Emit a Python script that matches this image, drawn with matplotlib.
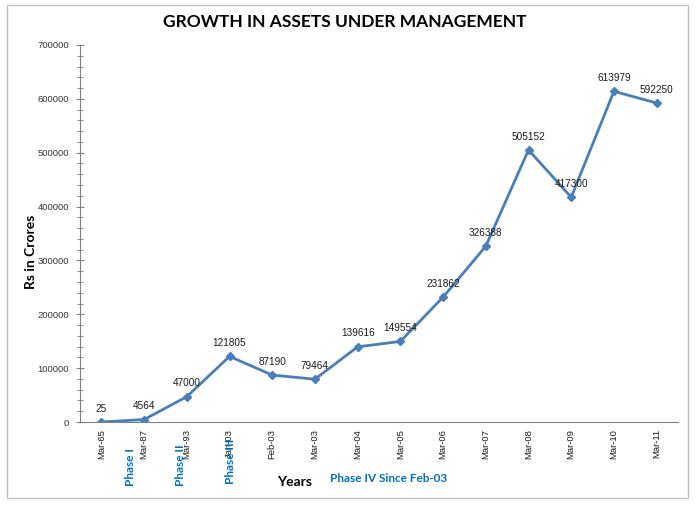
import matplotlib
matplotlib.use("Agg")
import matplotlib.pyplot as plt
from matplotlib.ticker import MultipleLocator
from matplotlib.patches import Rectangle

categories = ["Mar-65", "Mar-87", "Mar-93", "Jan-03", "Feb-03", "Mar-03", "Mar-04",
              "Mar-05", "Mar-06", "Mar-07", "Mar-08", "Mar-09", "Mar-10", "Mar-11"]
values = [25, 4564, 47000, 121805, 87190, 79464, 139616, 149554, 231862, 326388,
          505152, 417300, 613979, 592250]
phase_labels = ["Phase I", "Phase II", "Phase III"]
yticks = [0, 100000, 200000, 300000, 400000, 500000, 600000, 700000]

blue = "#4A7EBB"
phase_blue = "#0070C0"
fam = ["Lato", "DejaVu Sans"]

fig = plt.figure(figsize=(6.97, 5.05), dpi=100)
fig.patches.append(Rectangle((7/697, 1-498/505), (688-7)/697, (498-5)/505,
                             transform=fig.transFigure, fill=False,
                             edgecolor="#BFBFBF", linewidth=1.0))
ax = fig.add_axes([80/697, 1-422/505, (678-80)/697, (422-45)/505])

x = list(range(len(categories)))
ax.plot(x, values, color=blue, linewidth=2, marker="D", markersize=4.5,
        markerfacecolor=blue, markeredgecolor=blue)
for xi, v in zip(x, values):
    ax.annotate(str(v), (xi, v), xytext=(0, 6), textcoords="offset points",
                ha="center", va="bottom", fontsize=7.2, color="#1A1A1A",
                family="Liberation Sans")

ax.set_xlim(-0.5, len(categories) - 0.5)
ax.set_ylim(0, 700000)
ax.set_xticks(x)
ax.set_xticklabels(categories, rotation=90, fontsize=6.8, color="#1A1A1A",
                   family="Liberation Sans")
ax.tick_params(axis="x", length=0, pad=5)
ax.set_yticks(yticks)
ax.set_yticklabels([str(t) for t in yticks], fontsize=6.8, color="#333333",
                   family="Liberation Sans")
ax.yaxis.set_minor_locator(MultipleLocator(20000))
ax.tick_params(axis="y", which="major", direction="inout", length=6, color="#808080", pad=5)
ax.tick_params(axis="y", which="minor", direction="inout", length=4, color="#808080")
for s in ["top", "right"]:
    ax.spines[s].set_visible(False)
ax.spines["left"].set_color("#808080")
ax.spines["bottom"].set_color("#808080")

fig.text(345/697, 1-22/505, "GROWTH IN ASSETS UNDER MANAGEMENT", ha="center",
         va="center", fontsize=12.5, fontweight="bold", family=fam)
fig.text(31/697, 1-252/505, "Rs in Crores", rotation=90, ha="center", va="center",
         fontsize=10, fontweight="bold", family=fam)
fig.text(295/697, 1-482/505, "Years", ha="center", va="center", fontsize=10,
         fontweight="bold", family=fam)
fig.text(330/697, 1-479/505, "Phase IV Since Feb-03", ha="left", va="center",
         fontsize=8.5, fontweight="bold", color=phase_blue, family=fam)
for px, py, lab in [(130, 467, phase_labels[0]), (180, 465, phase_labels[1]),
                    (231, 461, phase_labels[2])]:
    fig.text(px/697, 1-py/505, lab, rotation=90, ha="center", va="center",
             fontsize=8.5, fontweight="bold", color=phase_blue, family=fam)

fig.savefig("out.png", dpi=100)
